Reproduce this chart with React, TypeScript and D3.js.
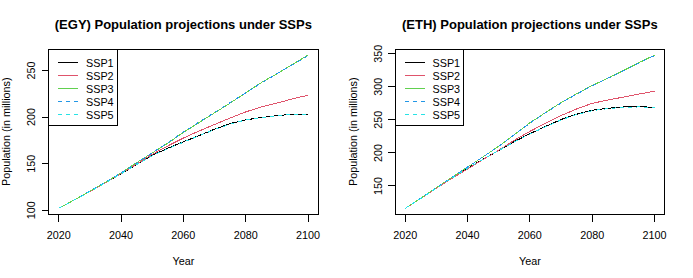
import * as d3 from "d3";

const years = [2020, 2025, 2030, 2035, 2040, 2045, 2050, 2055, 2060, 2065, 2070, 2075, 2080, 2085, 2090, 2095, 2100];
const seriesNames = ["SSP1", "SSP2", "SSP3", "SSP4", "SSP5"];
const xTicks = [2020, 2040, 2060, 2080, 2100];

// Egypt, millions
const egySSP1 = [102, 111, 120, 129.5, 139, 149, 159, 166.5, 173.5, 180, 187, 193, 197, 199.5, 201.5, 203, 203];
const egySSP2 = [102, 111, 120, 129.5, 139.5, 149.5, 160, 169, 177.5, 185, 192, 199, 205.5, 211, 215, 219.5, 223.5];
const egySSP3 = [102, 111, 120.5, 130, 140, 151, 161.5, 172, 183.5, 194, 204.5, 215, 226, 237, 246.5, 256.5, 266.5];
const egySSP4 = [102, 111, 120.5, 130, 140, 150.5, 161.5, 172.5, 184, 194.5, 205, 215.5, 226, 236.5, 246.5, 256, 266];
const egySSP5 = [102, 111, 120, 129.5, 139, 149, 158.5, 166, 173, 180, 186.5, 192.5, 197, 199.5, 201.5, 203, 203];
const egyTicks = [100, 150, 200, 250];

// Ethiopia, millions
const ethSSP1 = [116, 131, 146.5, 162, 176.5, 190.5, 203.5, 217, 229, 240, 250.5, 258.5, 264.5, 267.5, 269.5, 270, 269];
const ethSSP2 = [116, 131, 146.5, 161.5, 175.5, 190, 204, 219, 232.5, 245, 256.5, 266.5, 275, 280, 284.5, 289, 293.5];
const ethSSP3 = [116, 131.5, 147.5, 163, 178.5, 194, 210, 227.5, 245.5, 261, 276, 289.5, 302, 313, 324.5, 336.5, 348];
const ethSSP4 = [116, 131.5, 147.5, 163, 178.5, 194, 210, 227.5, 245, 260.5, 275.5, 289, 301.5, 313, 324, 336, 347.5];
const ethSSP5 = [116, 131, 146.5, 162, 176.5, 190.5, 203.5, 216.5, 228.5, 239.5, 250, 258, 264, 267, 269, 269.5, 269];
const ethTicks = [150, 200, 250, 300, 350];

const colors = ["#000000", "#DF536B", "#61D04F", "#2297E6", "#28E2E5"];
const dashes = [null, null, null, "4 4", "4 4"];

const font = "'Liberation Sans', Arial, sans-serif";
const panelW = 346.5;
const H = 278;
const m = { left: 48.7, right: 28.5, top: 49, bottom: 63.5 };

// R style axis range: data range stretched by 4%
const padRange = (lo: number, hi: number): [number, number] => {
  const d = (hi - lo) * 0.04;
  return [lo - d, hi + d];
};

const Panel = ({ title, series, yTicks, dx }: { title: string; series: number[][]; yTicks: number[]; dx: number }) => {
  const x0 = m.left, x1 = panelW - m.right, y0 = m.top, y1 = H - m.bottom;
  const x = d3.scaleLinear().domain(padRange(years[0], years[years.length - 1])).range([x0, x1]);
  const all = series.flat();
  const y = d3.scaleLinear().domain(padRange(d3.min(all)!, d3.max(all)!)).range([y1, y0]);
  const line = d3.line<number>().x((_, i) => x(years[i])).y((v) => y(v));
  const cx = (x0 + x1) / 2;
  const rowH = 13;

  return (
    <g transform={`translate(${dx},0)`} fontFamily={font}>
      <text x={cx} y={28.5} textAnchor="middle" fontSize={13} fontWeight="bold">{title}</text>
      {series.map((s, i) => (
        <path key={i} d={line(s) ?? ""} fill="none" stroke={colors[i]} strokeWidth={1}
          strokeDasharray={dashes[i] ?? undefined} shapeRendering="crispEdges" />
      ))}
      <g shapeRendering="crispEdges">
        <rect x={x0} y={y0} width={x1 - x0} height={y1 - y0} fill="none" stroke="black" strokeWidth={1} />
        {xTicks.map((t) => (
          <line key={t} x1={x(t)} x2={x(t)} y1={y1} y2={y1 + 7} stroke="black" />
        ))}
        {yTicks.map((t) => (
          <line key={t} x1={x0 - 7} x2={x0} y1={y(t)} y2={y(t)} stroke="black" />
        ))}
      </g>
      {xTicks.map((t) => (
        <text key={t} x={x(t)} y={y1 + 24.5} textAnchor="middle" fontSize={10.8}>{t}</text>
      ))}
      {yTicks.map((t) => (
        <text key={t} transform={`translate(${x0 - 13.7},${y(t)}) rotate(-90)`} textAnchor="middle" fontSize={10.8}>{t}</text>
      ))}
      <text x={cx} y={y1 + 50.5} textAnchor="middle" fontSize={10.8}>Year</text>
      <text transform={`translate(10,${(y0 + y1) / 2}) rotate(-90)`} textAnchor="middle" fontSize={10.8}>Population (in millions)</text>
      <rect x={x0} y={y0} width={68.5} height={76} fill="white" stroke="black" strokeWidth={1} shapeRendering="crispEdges" />
      {seriesNames.map((n, i) => {
        const ry = y0 + 13.5 + i * rowH;
        return (
          <g key={n}>
            <line x1={x0 + 9.5} x2={x0 + 29.5} y1={ry} y2={ry} stroke={colors[i]}
              strokeDasharray={dashes[i] ?? undefined} shapeRendering="crispEdges" />
            <text x={x0 + 37.3} y={ry + 4} fontSize={10.8}>{n}</text>
          </g>
        );
      })}
    </g>
  );
};

export default function App() {
  return (
    <svg width={693} height={H} style={{ position: "absolute", left: 0, top: 0, background: "white" }}>
      <rect width={693} height={H} fill="white" />
      <Panel title="(EGY) Population projections under SSPs" series={[egySSP1, egySSP2, egySSP3, egySSP4, egySSP5]} yTicks={egyTicks} dx={0} />
      <Panel title="(ETH) Population projections under SSPs" series={[ethSSP1, ethSSP2, ethSSP3, ethSSP4, ethSSP5]} yTicks={ethTicks} dx={panelW} />
    </svg>
  );
}
